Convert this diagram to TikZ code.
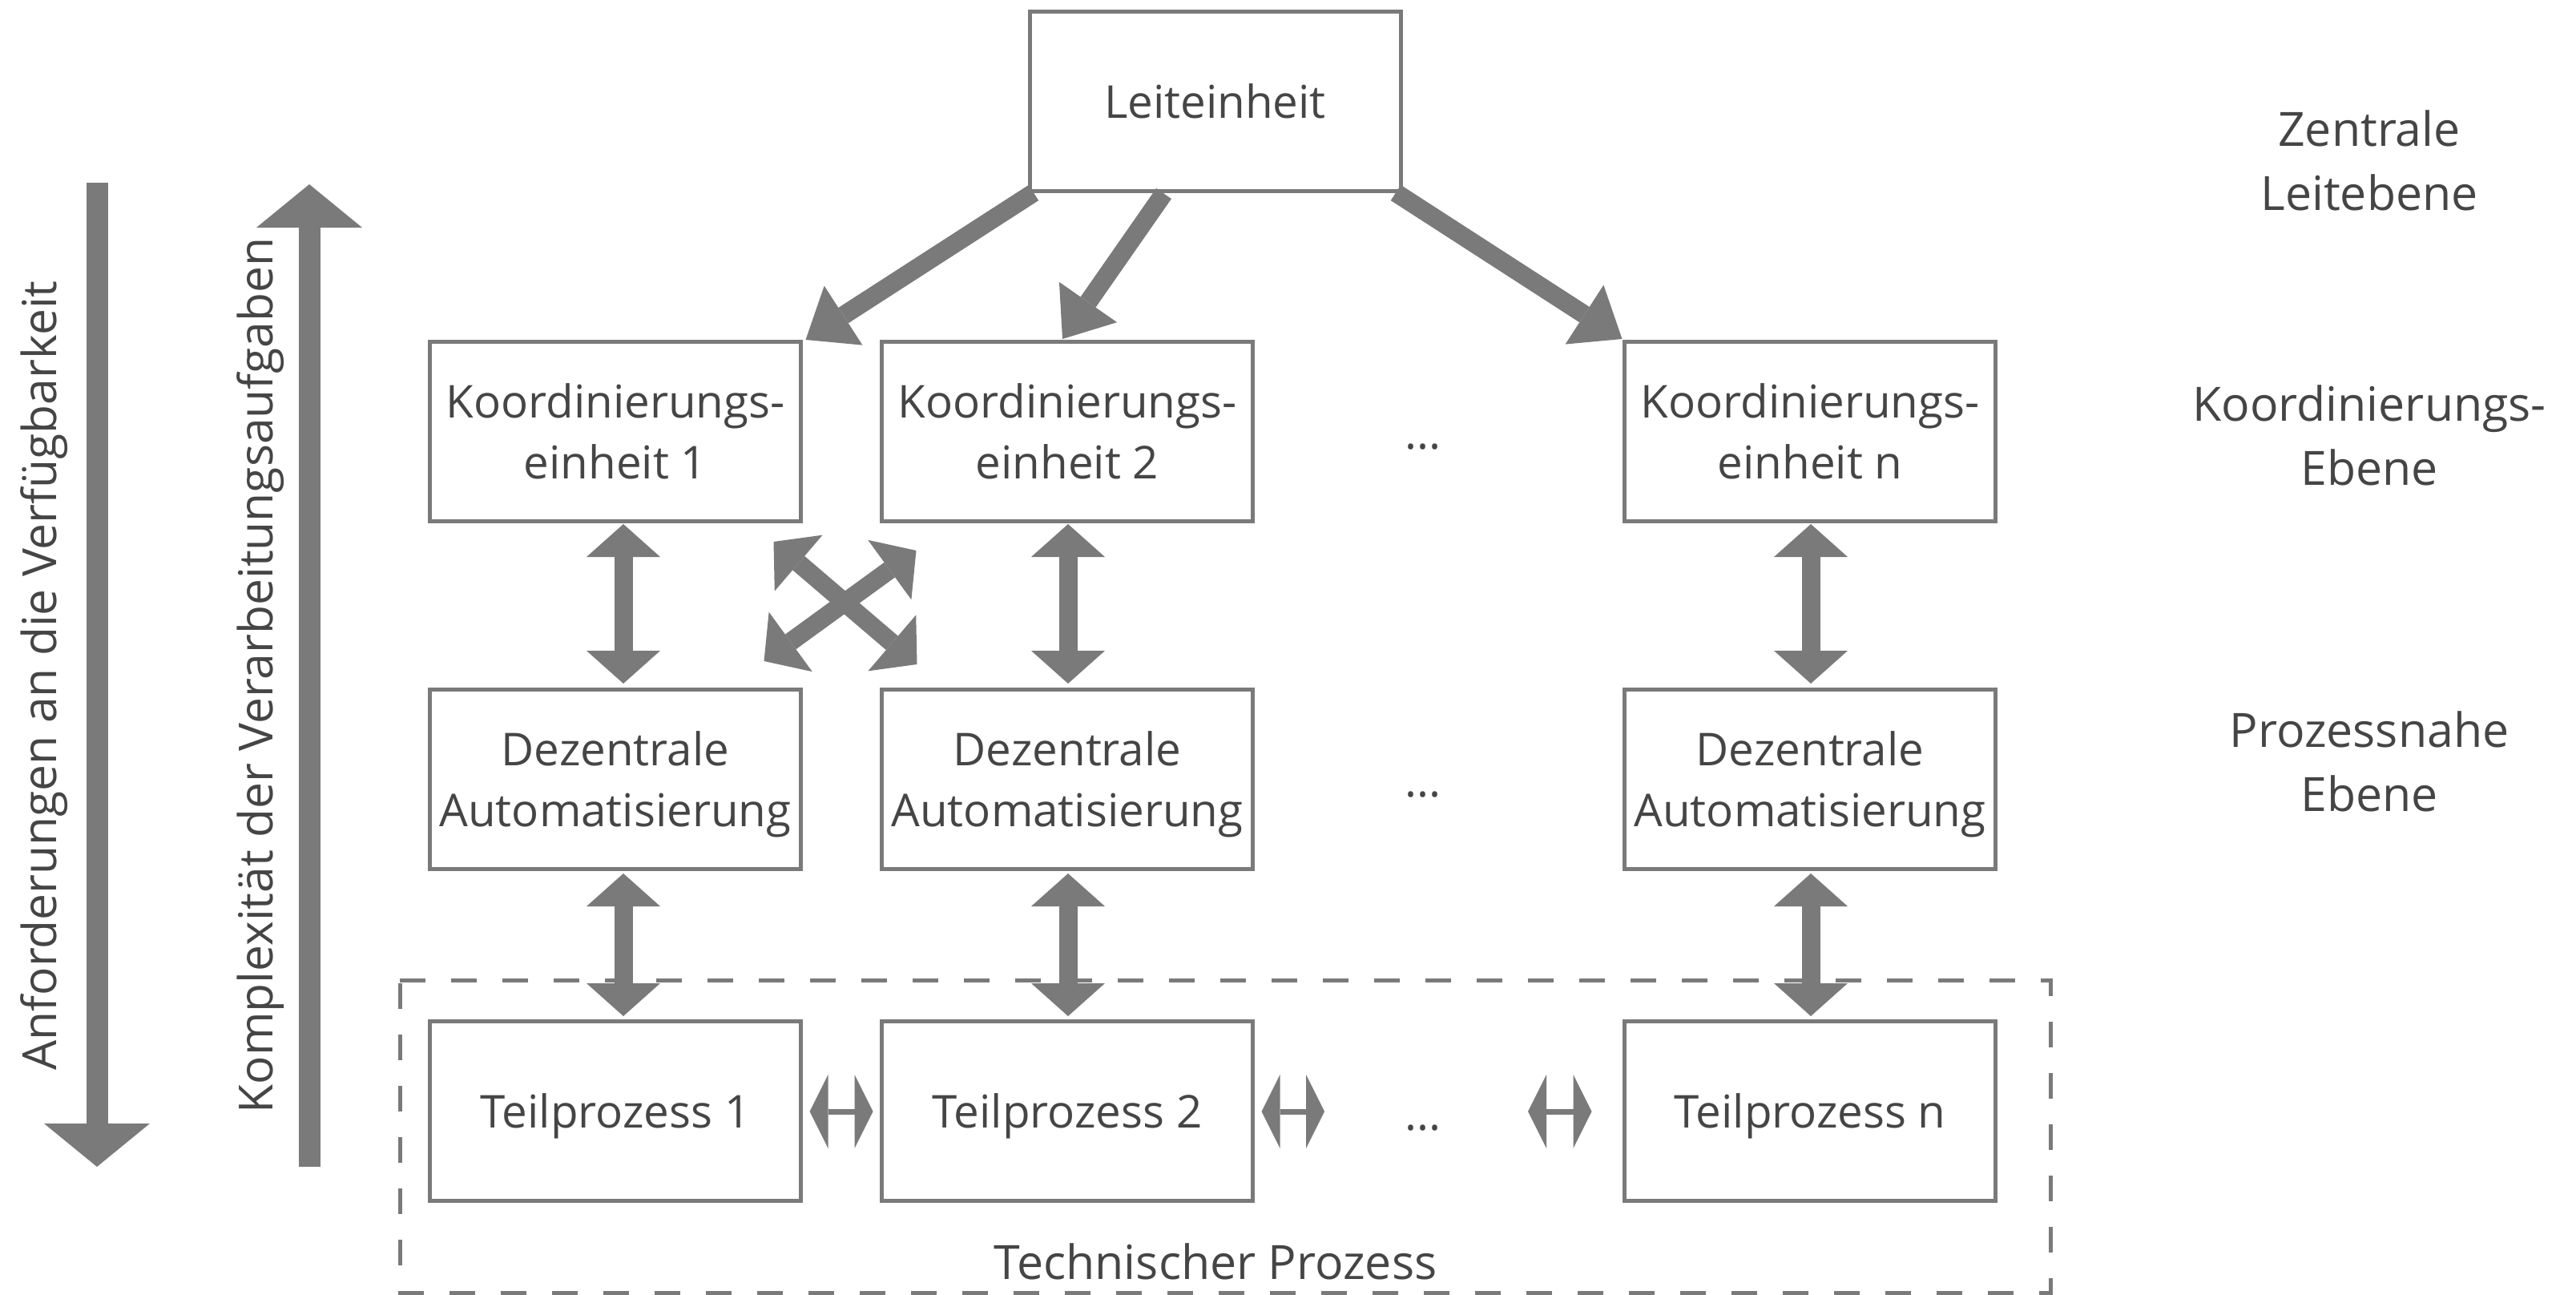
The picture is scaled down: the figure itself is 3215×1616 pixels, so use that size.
\documentclass[tikz,border=0pt]{standalone}
\usepackage{fontspec}
\setmainfont{Open Sans}
\usetikzlibrary{arrows.meta,calc}
\definecolor{lc}{HTML}{7A7A7A}
\definecolor{tc}{HTML}{454545}
\newcommand\boxfont{\fontsize{56.5}{76}\selectfont}
\newcommand\lblfont{\fontsize{59}{80}\selectfont}
\newcommand\sidefont{\fontsize{58.7}{70}\selectfont}
\tikzset{
  vhead/.tip={Triangle[length=41pt,width=92pt,line width=0pt 0]},
  thead/.tip={Triangle[length=56pt,width=88pt,line width=0pt 0]},
  shead/.tip={Triangle[length=23pt,width=92pt,line width=0pt 0]},
  bhead/.tip={Triangle[length=54pt,width=132pt,line width=0pt 0]},
  box/.style={draw=lc,line width=5pt,minimum width=463pt,minimum height=224pt,inner sep=0pt,outer sep=0pt,align=center,text=tc,font=\boxfont,text depth=0pt},
  lbl/.style={align=center,text=tc,font=\lblfont,inner sep=0pt,text depth=0pt},
  txt/.style={text=tc,font=\boxfont,inner sep=0pt},
  sidetxt/.style={text=tc,font=\sidefont,inner sep=0pt},
  dbl/.style={draw=lc,line width=23pt,{vhead}-{vhead}},
  down/.style={draw=lc,line width=23pt,-{thead}},
  thin/.style={draw=lc,line width=7pt,{shead}-{shead}},
  big/.style={draw=lc,line width=27pt,-{bhead}},
  frame/.style={draw=lc,line width=5pt,dash pattern=on 32pt off 32pt},
}
\begin{document}
\begin{tikzpicture}[x=1pt,y=-1pt]
\useasboundingbox (0,0) rectangle (3215,1616);

% technical process frame
\draw[frame] (499,1223) -- (2559,1223) -- (2559,1613) -- (499,1613) -- cycle;
\node[txt,font=\lblfont,anchor=base] (tp) at (1517,1596) {Technischer Prozess};

% boxes
\node[box] (L) at (1516.5,126.5) {Leiteinheit};

\node[box] (K1) at (768,538) {Koordinierungs-\\einheit 1};
\node[box] (K2) at (1332,538) {Koordinierungs-\\einheit 2};
\node[box] (Kn) at (2259,538) {Koordinierungs-\\einheit n};

\node[box] (D1) at (768,972) {Dezentrale\\Automatisierung};
\node[box] (D2) at (1332,972) {Dezentrale\\Automatisierung};
\node[box] (Dn) at (2259,972) {Dezentrale\\Automatisierung};

\node[box] (T1) at (768,1386) {Teilprozess 1};
\node[box] (T2) at (1332,1386) {Teilprozess 2};
\node[box] (Tn) at (2259,1386) {Teilprozess n};

% dots
\node[txt,anchor=base] (d2) at (1776,560) {...};
\node[txt,anchor=base] (d3) at (1776,994) {...};
\node[txt,anchor=base] (d4) at (1776,1410) {...};

% level labels
\node[lbl] (zl) at (2957,200) {Zentrale\\Leitebene};
\node[lbl] (ke) at (2957,543) {Koordinierungs-\\Ebene};
\node[lbl] (pe) at (2957,950) {Prozessnahe\\Ebene};

% left side
\node[sidetxt,rotate=90,anchor=base] (anf) at (70,843) {Anforderungen an die Verfügbarkeit};
\node[sidetxt,rotate=90,anchor=base] (kom) at (340,843) {Komplexität der Verarbeitungsaufgaben};
\coordinate (a1s) at (121,228);
\coordinate (a1e) at (121,1456);
\coordinate (a2s) at (386,1456);
\coordinate (a2e) at (386,230);
\draw[big] (a1s) -- (a1e);
\draw[big] (a2s) -- (a2e);

% top arrows
\draw[down] ($(L.south west)+(5,2)$) -- ($(K1.north east)+(6,-2)$);
\draw[down] ($(L.south)+(-64,3)$) -- ($(K2.north)+(-6,-3)$);
\draw[down] ($(L.south east)+(-6,2)$) -- ($(Kn.north west)+(-3,-3)$);

% vertical double arrows
\draw[dbl] ($(K1.south)+(10,4)$) -- ($(D1.north)+(10,-7)$);
\draw[dbl] ($(K2.south)+(1,4)$) -- ($(D2.north)+(1,-7)$);
\draw[dbl] ($(Kn.south)+(1,4)$) -- ($(Dn.north)+(1,-7)$);
\draw[dbl] ($(D1.south)+(10,6)$) -- ($(T1.north)+(10,-6)$);
\draw[dbl] ($(D2.south)+(1,6)$) -- ($(T2.north)+(1,-6)$);
\draw[dbl] ($(Dn.south)+(1,6)$) -- ($(Tn.north)+(1,-6)$);

% cross arrows
\draw[dbl] ($(D1.north east)+(-46,-35)$) -- ($(K2.south west)+(43,37)$);
\draw[dbl] ($(K1.south east)+(-34,26)$) -- ($(D2.north west)+(44,-31)$);

% horizontal arrows between partial processes
\coordinate (h2e) at (1653,1387);
\coordinate (h3s) at (1907,1387);
\draw[thin] ($(T1.east)+(11,1)$) -- ($(T2.west)+(-11,1)$);
\draw[thin] ($(T2.east)+(11,1)$) -- (h2e);
\draw[thin] (h3s) -- ($(Tn.west)+(-41,1)$);
\end{tikzpicture}
\end{document}
